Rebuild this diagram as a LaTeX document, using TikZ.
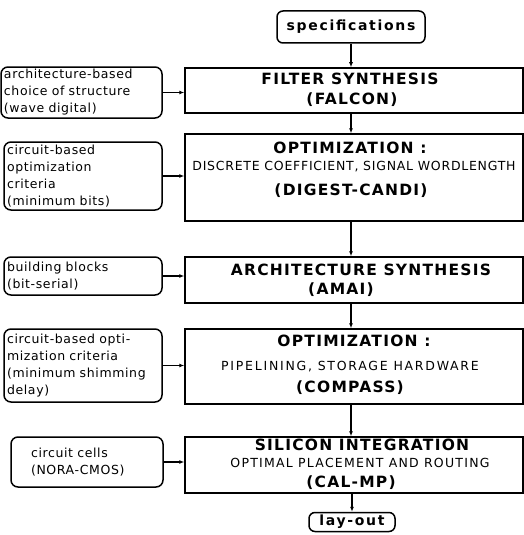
\documentclass[tikz,border=0pt]{standalone}
\usepackage{fontspec}
\setmainfont{DejaVu Sans}
\usetikzlibrary{arrows.meta}

\begin{document}
\begin{tikzpicture}
         [x=1pt,y=-1pt,line width=1.5pt,
          mainbox/.style={draw,rectangle,minimum width=338pt,inner sep=0pt},
          sidebox/.style={draw,rectangle,rounded corners=7pt,inner xsep=3pt,inner ysep=0pt,
            align=left,font=\fontsize{12.5}{17}\selectfont\addfontfeature{LetterSpace=5}},
          endbox/.style={draw,rectangle,rounded corners=6pt,inner sep=0pt,
            font=\fontsize{14}{16}\selectfont\bfseries\addfontfeature{LetterSpace=12}},
          title/.style={font=\fontsize{15.5}{17}\selectfont\bfseries\addfontfeature{LetterSpace=8}},
          sub/.style={font=\fontsize{12.5}{14}\selectfont\addfontfeature{LetterSpace=14}},
          flow/.style={-{Latex[length=5pt,width=4pt]}}]
         \useasboundingbox (0,0) rectangle (523,535);
         % main chain
         \node[endbox,minimum width=148pt,minimum height=32pt] (spec) at (351,27) {specifications};
         \node[mainbox,minimum height=45pt] (falcon) at (354,90.5) {};
         \node[mainbox,minimum height=87pt] (digest) at (354,177.5) {};
         \node[mainbox,minimum height=46pt] (amai) at (354,280) {};
         \node[mainbox,minimum height=75pt] (compass) at (354,366.5) {};
         \node[mainbox,minimum height=56pt] (calmp) at (354,465) {};
         \node[endbox,minimum width=86pt,minimum height=19pt] (layout) at (352,522) {lay-out};
         % texts in the main boxes
         \node[title] (t1) at (350,79) {FILTER SYNTHESIS};
         \node[title] (t1b) at (352,100) {(FALCON)};
         \node[title] (t2) at (350,147.5) {OPTIMIZATION :};
         \node[sub,font=\fontsize{12.5}{14}\selectfont\addfontfeature{LetterSpace=6}] (t2a) at (354,167)
           {DISCRETE COEFFICIENT, SIGNAL WORDLENGTH};
         \node[title] (t2b) at (351,191) {(DIGEST-CANDI)};
         \node[title] (t3) at (361,270) {ARCHITECTURE SYNTHESIS};
         \node[title] (t3b) at (341,290) {(AMAI)};
         \node[title] (t4) at (354,341) {OPTIMIZATION :};
         \node[sub] (t4a) at (350,367) {PIPELINING, STORAGE HARDWARE};
         \node[title] (t4b) at (350,388) {(COMPASS)};
         \node[title] (t5) at (362,445) {SILICON INTEGRATION};
         \node[sub,font=\fontsize{12.5}{14}\selectfont\addfontfeature{LetterSpace=10}] (t5a) at (360,463)
           {OPTIMAL PLACEMENT AND ROUTING};
         \node[title] (t5b) at (351,483) {(CAL-MP)};
         % side inputs
         \node[sidebox,text width=155pt,minimum height=51pt] (s1) at (81.5,92.5)
           {architecture-based\\choice of structure\\(wave digital)};
         \node[sidebox,text width=152pt,minimum height=68pt] (s2) at (83,176)
           {circuit-based\\optimization\\criteria\\(minimum bits)};
         \node[sidebox,text width=152pt,minimum height=38pt] (s3) at (83,276)
           {building blocks\\(bit-serial)};
         \node[sidebox,text width=152pt,minimum height=73pt] (s4) at (83,365.5)
           {circuit-based opti-\\mization criteria\\(minimum shimming\\delay)};
         \node[sidebox,inner xsep=20pt,text width=112pt,minimum height=50pt] (s5) at (87,462)
           {circuit cells\\(NORA-CMOS)};
         % connectors
         \draw[flow] (spec.south) -- (spec.south |- falcon.north);
         \foreach \from/\to in {falcon/digest, digest/amai, amai/compass, compass/calmp}
            \draw[flow] (\from.south -| spec.south) -- (\to.north -| spec.south);
         \draw[flow] (calmp.south -| layout.north) -- (layout.north);
         \foreach \from/\to in {s1/falcon, s2/digest, s3/amai, s4/compass, s5/calmp}
            \draw[flow] (\from.east) -- (\from.east -| \to.west);
       \end{tikzpicture}
\end{document}
